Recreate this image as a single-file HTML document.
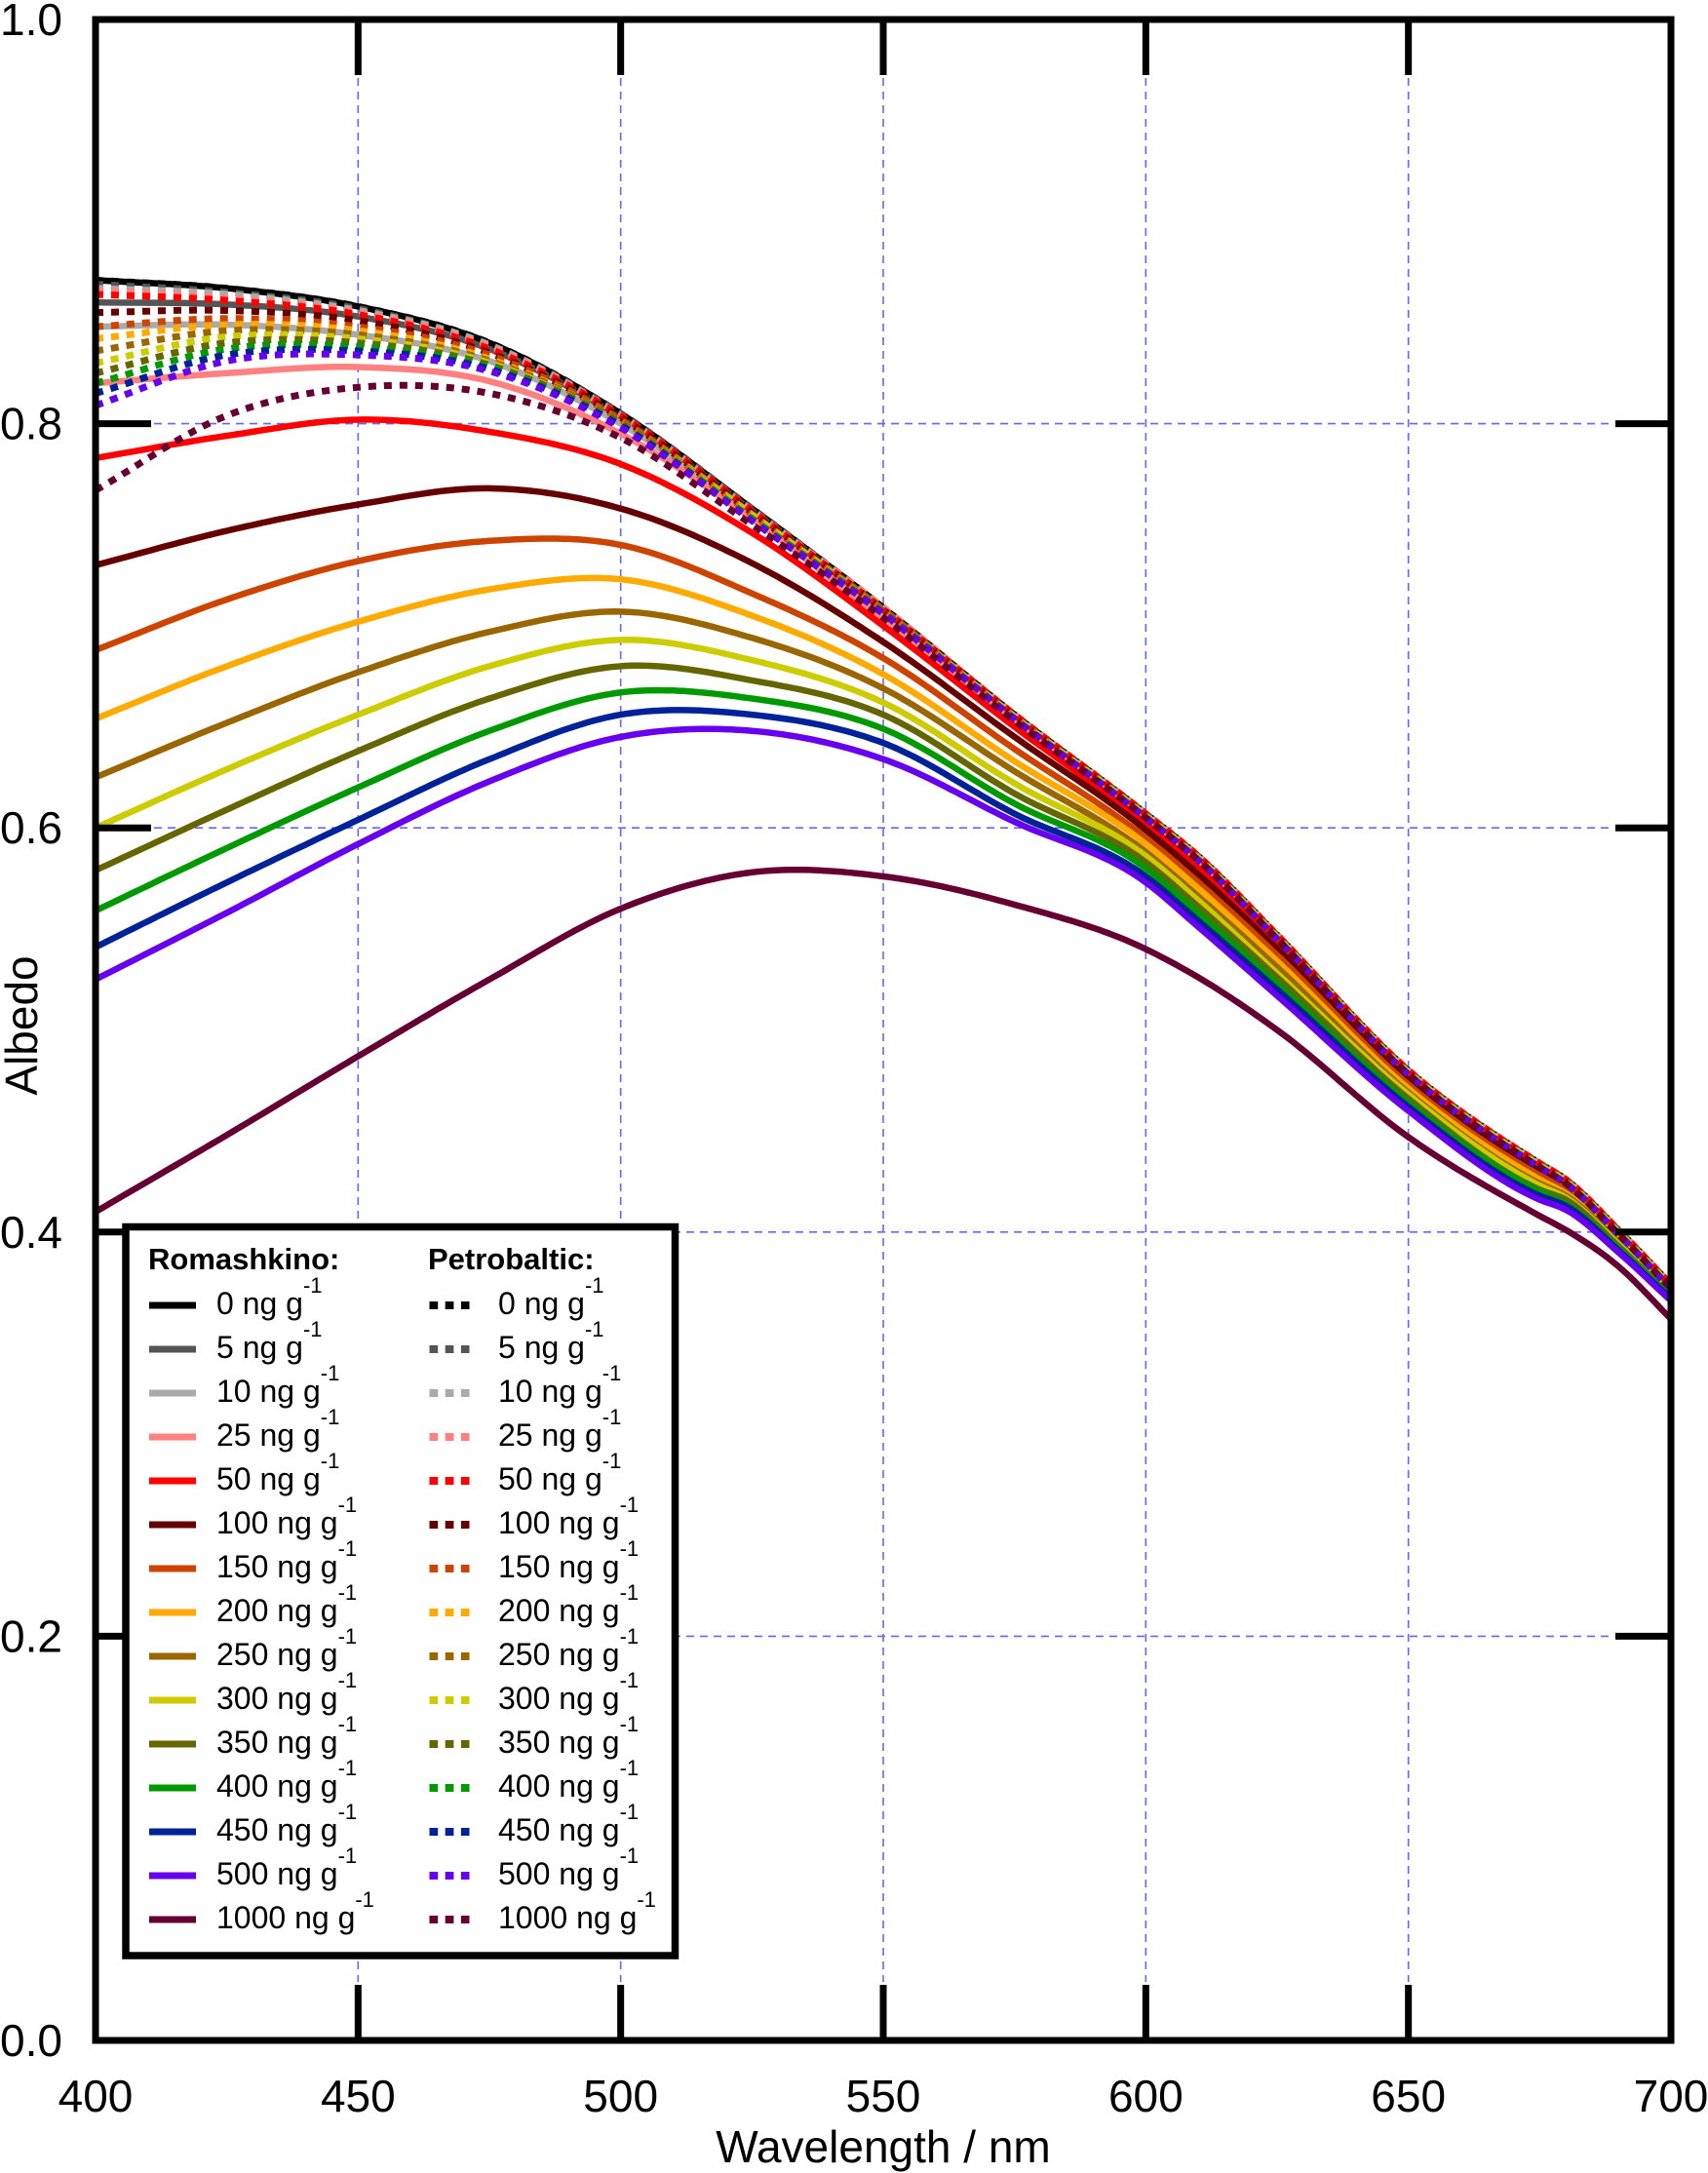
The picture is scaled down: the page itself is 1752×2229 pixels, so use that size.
<!DOCTYPE html>
<html><head><meta charset="utf-8">
<style>
html,body{margin:0;padding:0;background:#fff;}
svg{display:block;font-family:"Liberation Sans",Arial,sans-serif;}
</style></head>
<body>
<svg id="chart" width="1752" height="2229" viewBox="0 0 1752 2229" xmlns="http://www.w3.org/2000/svg">
<rect x="0" y="0" width="1752" height="2229" fill="#fff"/>
<g id="grid"></g>
<g id="series"></g>
<g id="axes"></g>
<g id="legend"></g>
<text x="906" y="2218" font-size="46" text-anchor="middle">Wavelength / nm</text>
<text transform="translate(38,1052) rotate(-90)" font-size="46" text-anchor="middle">Albedo</text>
</svg>
<script>
const wavelengths = [400,425,450,475,500,525,550,575,600,610,625,650,675,680,690,700];
const concLabels = ["0","5","10","25","50","100","150","200","250","300","350","400","450","500","1000"];
const colors = ["#000000","#555555","#aaaaaa","#ff8080","#ff0000","#660000","#cc4400","#ffaa00","#996600","#cccc00","#666600","#009900","#002299","#6600ee","#660033"];
const xTicks = [400,450,500,550,600,650,700];
const yTicks = [0.0,0.2,0.4,0.6,0.8,1.0];
const yTickLabels = ["0.0","0.2","0.4","0.6","0.8","1.0"];

const rom0 = [0.871,0.867,0.858,0.840,0.805,0.758,0.709,0.656,0.607,0.586,0.547,0.480,0.434,0.426,0.401,0.374];
const rom5 = [0.860,0.859,0.853,0.837,0.803,0.757,0.708,0.655,0.607,0.586,0.547,0.480,0.434,0.426,0.401,0.374];
const rom10 = [0.848,0.849,0.844,0.831,0.800,0.755,0.707,0.654,0.606,0.585,0.546,0.479,0.433,0.425,0.400,0.373];
const rom25 = [0.820,0.825,0.828,0.821,0.795,0.753,0.703,0.652,0.604,0.583,0.545,0.479,0.433,0.425,0.399,0.373];
const rom50 = [0.783,0.794,0.802,0.796,0.780,0.746,0.700,0.650,0.602,0.580,0.543,0.477,0.431,0.424,0.399,0.373];
const rom100 = [0.730,0.747,0.760,0.768,0.758,0.731,0.692,0.645,0.599,0.577,0.540,0.475,0.430,0.422,0.398,0.372];
const rom150 = [0.688,0.713,0.732,0.742,0.740,0.716,0.684,0.639,0.595,0.573,0.537,0.473,0.428,0.421,0.397,0.371];
const rom200 = [0.654,0.680,0.702,0.718,0.723,0.705,0.676,0.633,0.592,0.570,0.534,0.471,0.426,0.419,0.396,0.370];
const rom250 = [0.625,0.652,0.677,0.697,0.707,0.694,0.669,0.628,0.588,0.566,0.531,0.469,0.424,0.418,0.395,0.370];
const rom300 = [0.600,0.629,0.656,0.680,0.693,0.683,0.662,0.622,0.586,0.564,0.528,0.468,0.423,0.417,0.394,0.369];
const rom350 = [0.579,0.609,0.638,0.664,0.680,0.673,0.656,0.617,0.583,0.561,0.526,0.466,0.421,0.416,0.393,0.368];
const rom400 = [0.559,0.590,0.620,0.648,0.667,0.664,0.649,0.612,0.580,0.558,0.523,0.464,0.420,0.414,0.392,0.368];
const rom450 = [0.541,0.573,0.604,0.634,0.656,0.656,0.642,0.607,0.576,0.554,0.520,0.462,0.418,0.413,0.391,0.367];
const rom500 = [0.525,0.558,0.592,0.623,0.645,0.648,0.634,0.603,0.573,0.551,0.517,0.460,0.416,0.411,0.390,0.366];
const rom1000 = [0.410,0.448,0.487,0.525,0.560,0.578,0.576,0.562,0.540,0.526,0.500,0.447,0.408,0.401,0.383,0.357];

const pet0 = [0.871,0.867,0.858,0.840,0.805,0.758,0.709,0.656,0.607,0.586,0.547,0.480,0.434,0.426,0.401,0.374];
const pet5 = [0.869,0.865,0.857,0.839,0.805,0.758,0.709,0.656,0.607,0.586,0.547,0.480,0.434,0.426,0.401,0.374];
const pet10 = [0.867,0.864,0.856,0.839,0.804,0.757,0.709,0.656,0.607,0.586,0.547,0.480,0.434,0.426,0.401,0.374];
const pet25 = [0.866,0.862,0.855,0.838,0.804,0.757,0.709,0.656,0.607,0.586,0.547,0.480,0.434,0.426,0.401,0.374];
const pet50 = [0.864,0.861,0.854,0.837,0.804,0.757,0.708,0.656,0.607,0.586,0.547,0.480,0.434,0.426,0.401,0.374];
const pet100 = [0.855,0.856,0.851,0.835,0.803,0.756,0.708,0.655,0.606,0.585,0.546,0.479,0.433,0.425,0.400,0.373];
const pet150 = [0.848,0.852,0.848,0.834,0.802,0.755,0.708,0.655,0.606,0.585,0.546,0.479,0.433,0.425,0.400,0.373];
const pet200 = [0.842,0.849,0.846,0.832,0.801,0.755,0.707,0.655,0.606,0.585,0.546,0.479,0.433,0.425,0.400,0.373];
const pet250 = [0.836,0.846,0.844,0.831,0.801,0.754,0.707,0.655,0.606,0.585,0.546,0.479,0.433,0.425,0.400,0.373];
const pet300 = [0.830,0.843,0.842,0.830,0.800,0.754,0.707,0.655,0.606,0.585,0.546,0.479,0.433,0.425,0.400,0.373];
const pet350 = [0.825,0.840,0.840,0.829,0.800,0.753,0.707,0.654,0.605,0.584,0.545,0.478,0.432,0.424,0.399,0.372];
const pet400 = [0.820,0.837,0.838,0.828,0.799,0.753,0.706,0.654,0.605,0.584,0.545,0.478,0.432,0.424,0.399,0.372];
const pet450 = [0.815,0.834,0.836,0.827,0.799,0.752,0.706,0.654,0.605,0.584,0.545,0.478,0.432,0.424,0.399,0.372];
const pet500 = [0.809,0.831,0.834,0.826,0.798,0.752,0.706,0.654,0.605,0.584,0.545,0.478,0.432,0.424,0.399,0.372];
const pet1000 = [0.767,0.804,0.818,0.815,0.793,0.750,0.704,0.653,0.605,0.584,0.545,0.478,0.432,0.424,0.399,0.372];

const romSeries = [rom0,rom5,rom10,rom25,rom50,rom100,rom150,rom200,rom250,rom300,rom350,rom400,rom450,rom500,rom1000];
const petSeries = [pet0,pet5,pet10,pet25,pet50,pet100,pet150,pet200,pet250,pet300,pet350,pet400,pet450,pet500,pet1000];

const NS = "http://www.w3.org/2000/svg";
const L = 98, R = 1714, T = 20, B = 2093;
function xs(v){ return L + (v - 400) / 300 * (R - L); }
function ys(v){ return B - v * (B - T); }
function mk(tag, attrs, parent){
  const e = document.createElementNS(NS, tag);
  for (const k in attrs) e.setAttribute(k, attrs[k]);
  parent.appendChild(e);
  return e;
}
// cubic Hermite with non-uniform three-point slopes, sampled every 1 nm
function pathFor(vals){
  const x = wavelengths, y = vals, n = x.length;
  const h = [], s = [];
  for (let i = 0; i < n-1; i++){ h.push(x[i+1]-x[i]); s.push((y[i+1]-y[i])/h[i]); }
  const m = new Array(n);
  m[0] = s[0]; m[n-1] = s[n-2];
  for (let i = 1; i < n-1; i++){
    m[i] = (h[i]*s[i-1] + h[i-1]*s[i]) / (h[i-1] + h[i]);
  }
  let d = "";
  for (let i = 0; i < n-1; i++){
    const steps = Math.max(2, Math.round(h[i]));
    for (let k = (i===0?0:1); k <= steps; k++){
      const t = k/steps, t2 = t*t, t3 = t2*t;
      const v = (2*t3-3*t2+1)*y[i] + (t3-2*t2+t)*h[i]*m[i] + (-2*t3+3*t2)*y[i+1] + (t3-t2)*h[i]*m[i+1];
      const px = xs(x[i] + t*h[i]), py = ys(v);
      d += (d ? " L" : "M") + px.toFixed(1) + "," + py.toFixed(1);
    }
  }
  return d;
}

// grid
const grid = document.getElementById("grid");
xTicks.slice(1,-1).forEach(v=>{
  const g = mk("line",{x1:xs(v),x2:xs(v),y1:T+60,y2:B-60,stroke:"#6666ff","stroke-width":1.6,"stroke-dasharray":"8 6"},grid);
  
  
});
yTicks.slice(1,-1).forEach(v=>{
  const g = mk("line",{x1:L+60,x2:R-60,y1:ys(v),y2:ys(v),stroke:"#6666ff","stroke-width":1.6,"stroke-dasharray":"8 6"},grid);
  
  
});

// series
const sg = document.getElementById("series");
romSeries.forEach((vals,i)=>{
  const e = mk("path",{d:pathFor(vals),fill:"none",stroke:colors[i],"stroke-width":6.5,"stroke-linejoin":"round"},sg);
  
  
});
petSeries.forEach((vals,i)=>{
  const e = mk("path",{d:pathFor(vals),fill:"none",stroke:colors[i],"stroke-width":7,"stroke-dasharray":"8 8"},sg);
  
  
});

// axes
const ax = document.getElementById("axes");
xTicks.forEach(v=>{
  const t1 = mk("line",{x1:xs(v),x2:xs(v),y1:B,y2:B-57,stroke:"#000","stroke-width":7},ax);
  
  
  const t2 = mk("line",{x1:xs(v),x2:xs(v),y1:T,y2:T+57,stroke:"#000","stroke-width":7},ax);
  
  
  const tx = mk("text",{x:xs(v),y:2166,"font-size":46,"text-anchor":"middle"},ax);
  tx.textContent = String(v);
  
  
});
yTicks.forEach((v,i)=>{
  const t1 = mk("line",{x1:L,x2:L+57,y1:ys(v),y2:ys(v),stroke:"#000","stroke-width":7},ax);
  
  
  const t2 = mk("line",{x1:R,x2:R-57,y1:ys(v),y2:ys(v),stroke:"#000","stroke-width":7},ax);
  
  
  const tx = mk("text",{x:64,y:ys(v)+16,"font-size":46,"text-anchor":"end"},ax);
  tx.textContent = yTickLabels[i];
  
  
});
const frame = mk("rect",{x:L,y:T,width:R-L,height:B-T,fill:"none",stroke:"#000","stroke-width":7},ax);



// legend
const lg = document.getElementById("legend");
const box = mk("rect",{x:129,y:1258.5,width:563.5,height:747.5,fill:"#fff",stroke:"#000","stroke-width":7.5},lg);


const h1 = mk("text",{x:152,y:1302,"font-size":31,"font-weight":"bold"},lg);
h1.textContent = "Romashkino:";


const h2 = mk("text",{x:439,y:1302,"font-size":31,"font-weight":"bold"},lg);
h2.textContent = "Petrobaltic:";


concLabels.forEach((c,i)=>{
  const y = 1339 + 45*i;
  const s1 = mk("line",{x1:153,x2:201,y1:y,y2:y,stroke:colors[i],"stroke-width":7},lg);
  
  
  const s2 = mk("line",{x1:440.5,x2:481.5,y1:y,y2:y,stroke:colors[i],"stroke-width":8,"stroke-dasharray":"8.7 7.5"},lg);
  
  
  [[222,'romashkino'],[511,'petrobaltic']].forEach(([x,k])=>{
    const t = mk("text",{x:x,y:y+9,"font-size":32},lg);
    t.appendChild(document.createTextNode(c + " ng g"));
    const sup = document.createElementNS(NS,"tspan");
    sup.setAttribute("font-size","22");
    sup.setAttribute("dy","-22");
    sup.textContent = "-1";
    t.appendChild(sup);
    
    
  });
});
</script>
</body></html>
